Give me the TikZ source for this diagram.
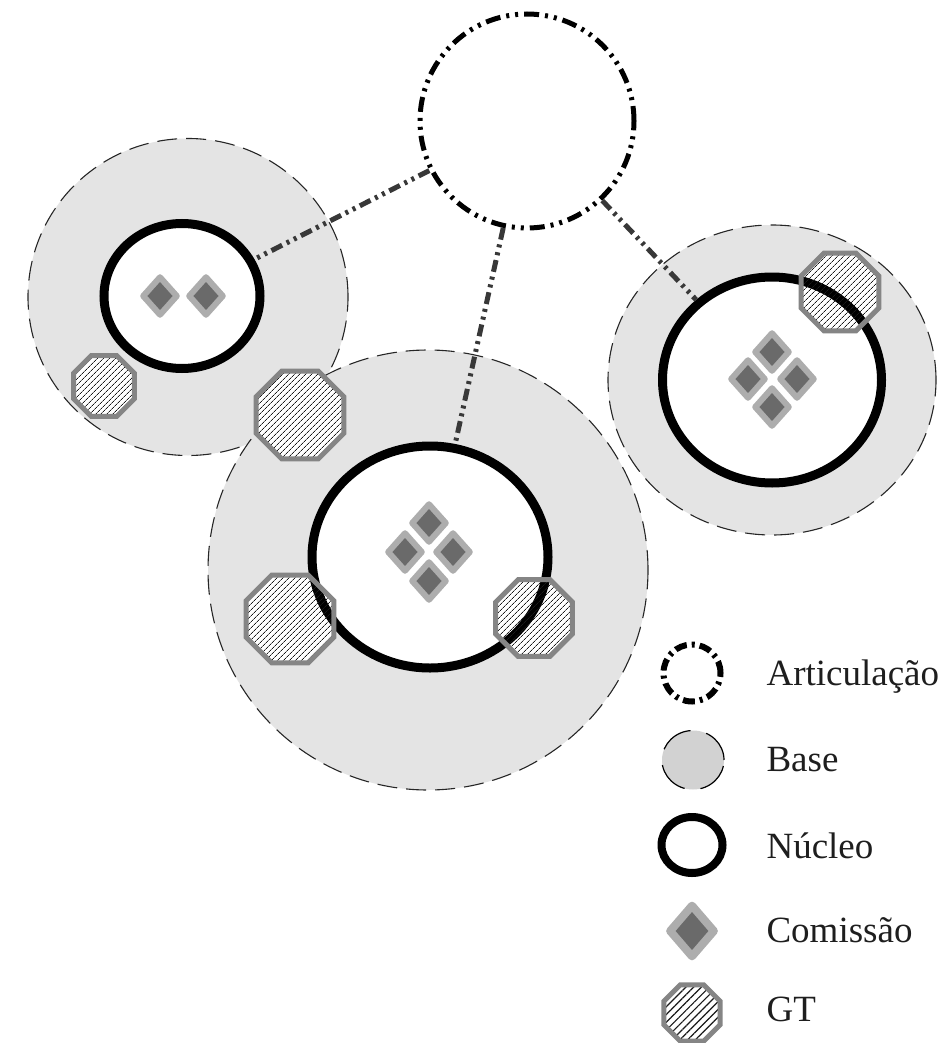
\documentclass[tikz,border=0pt]{standalone}
\usepackage{fontspec}
\setmainfont{Liberation Serif}
\usetikzlibrary{shapes.geometric,patterns.meta}

\definecolor{basegray}{HTML}{E4E4E4}
\definecolor{legbase}{HTML}{D2D2D2}
\definecolor{linkgray}{HTML}{383838}
\definecolor{comdark}{HTML}{6A6A6A}
\definecolor{comlight}{HTML}{ADADAD}
\definecolor{gtborder}{HTML}{858585}
\definecolor{txt}{HTML}{1E1E1E}

\tikzset{
  artic/.style={circle, draw=black, fill=white, line width=5pt, inner sep=0pt,
    dash pattern=on 15pt off 6pt on 3pt off 6pt on 3pt off 6pt},
  basezone/.style={ellipse, fill=basegray, draw=black!85, line width=1.1pt,
    dash pattern=on 20pt off 9pt, inner sep=0pt},
  nucleo/.style={ellipse, draw=black, fill=white, line width=9pt, inner sep=0pt},
  link/.style={draw=linkgray, line width=5pt,
    dash pattern=on 12pt off 5pt on 3pt off 5pt on 3pt off 5pt},
  comissao/.style={diamond, fill=comdark, draw=comlight, line width=6pt,
    line join=round, inner sep=0pt, minimum width=36pt, minimum height=40pt},
  gtbg/.style={regular polygon, regular polygon sides=8, fill=white,
    inner sep=0pt, outer sep=0pt},
  gtface/.style={draw=gtborder, line width=5pt, line join=miter,
    pattern={Lines[angle=45, distance=4pt, line width=0.8pt]}, pattern color=black!90},
  legtext/.style={anchor=base west, text=txt, font=\fontsize{37}{44}\selectfont},
}

% hatched octagon drawn over an existing octagon node
\newcommand{\gtover}[2][]{%
  \draw[gtface,#1] (#2.corner 1) \foreach \k in {2,...,8}{ -- (#2.corner \k)} -- cycle;}

\begin{document}
\begin{tikzpicture}[x=1pt, y=-1pt]
\useasboundingbox (0,0) rectangle (940,1043);

% base zones
\node[basezone, minimum width=320pt, minimum height=317pt] (baseL) at (188,297) {};
\node[basezone, minimum width=440pt, minimum height=440pt] (baseM) at (428,570) {};
\node[basezone, minimum width=328pt, minimum height=310pt] (baseR) at (772,380) {};

% white ground of the working groups
\node[gtbg, minimum size=66pt] (gtL1) at (104,386) {};
\node[gtbg, minimum size=95pt] (gtL2) at (300,415) {};
\node[gtbg, minimum size=95pt] (gtM1) at (290,619) {};
\node[gtbg, minimum size=83pt] (gtM2) at (534,618) {};
\node[gtbg, minimum size=84pt] (gtR1) at (840,292) {};

% nuclei
\node[nucleo, minimum width=156pt, minimum height=145pt] (nucL) at (182,296) {};
\node[nucleo, minimum width=236pt, minimum height=222pt] (nucM) at (430,557) {};
\node[nucleo, minimum width=219pt, minimum height=206pt] (nucR) at (772,380) {};

% articulation
\node[artic, minimum size=214pt] (art) at (527,121) {};

% links from the articulation to each nucleus
\draw[link] (art) -- (nucL);
\draw[link] (art) -- (nucM);
\draw[link] (art) -- (nucR);

% commissions
\node[comissao] (cL1) at (160,296) {};
\node[comissao] (cL2) at (206,296) {};

\node[comissao] (cM1) at (429,523) {};
\node[comissao] (cM2) at (405,552) {};
\node[comissao] (cM3) at (453,552) {};
\node[comissao] (cM4) at (429,581) {};

\node[comissao] (cR1) at (772,352) {};
\node[comissao] (cR2) at (748,379) {};
\node[comissao] (cR3) at (797,379) {};
\node[comissao] (cR4) at (772,407) {};

% working groups: hatching and border
\gtover{gtL1}
\gtover{gtL2}
\gtover{gtM1}
\gtover{gtM2}
\gtover{gtR1}

% legend
\node[artic, minimum size=57pt, line width=6pt,
  dash pattern=on 12pt off 5pt on 3pt off 5pt] (lgArt) at (692,673) {};
\node[ellipse, fill=legbase, draw=black, line width=1.2pt, inner sep=0pt,
  dash pattern=on 34pt off 16pt, minimum width=62pt, minimum height=59pt] (lgBase) at (693,760) {};
\node[nucleo, line width=8pt, minimum width=61pt, minimum height=56pt] (lgNuc) at (692,845) {};
\node[comissao, line width=8pt, minimum width=47pt, minimum height=54pt] (lgCom) at (692,931) {};
\node[gtbg, minimum size=61pt] (lgGT) at (692,1013) {};
\gtover[pattern={Lines[angle=45, distance=5.5pt, line width=1.2pt]}]{lgGT}

\node[legtext] (tArt) at (763,685) {Articulação};
\node[legtext] (tBase) at (763,771) {Base};
\node[legtext] (tNuc) at (763,858) {Núcleo};
\node[legtext] (tCom) at (763,942) {Comissão};
\node[legtext] (tGT) at (763,1021) {GT};
\end{tikzpicture}
\end{document}
